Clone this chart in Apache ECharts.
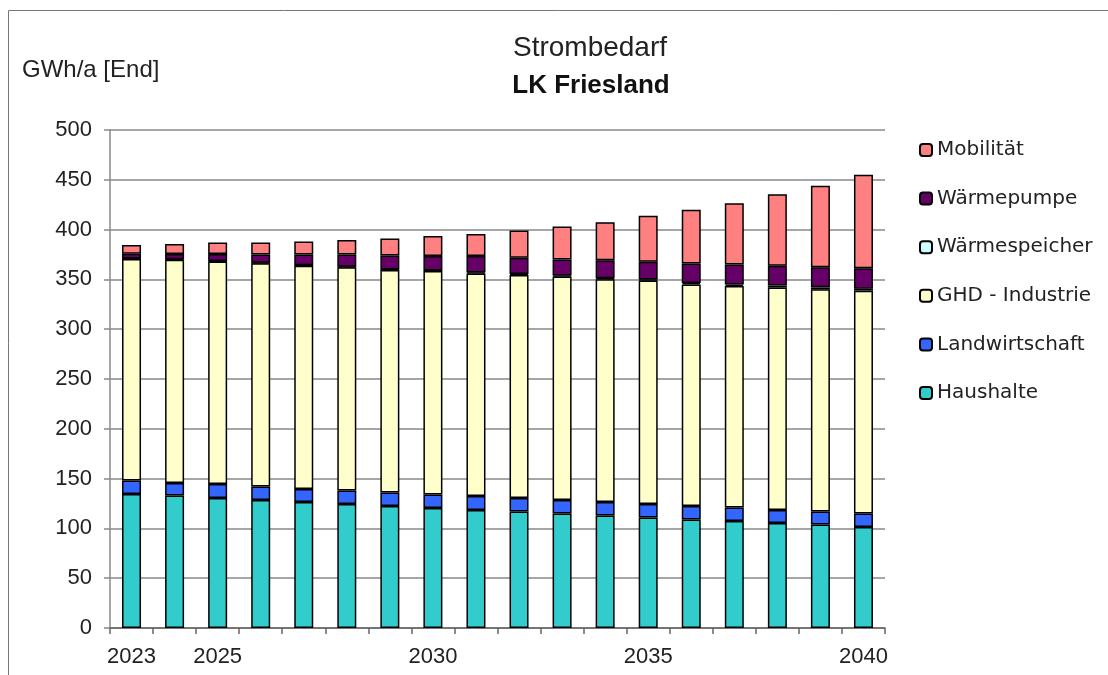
<!DOCTYPE html>
<html>
<head>
<meta charset="utf-8">
<script src="https://cdn.jsdelivr.net/npm/echarts@6/dist/echarts.min.js"></script>
<style>
html,body{margin:0;padding:0;background:#fff;}
#chart{width:1108px;height:675px;}
</style>
</head>
<body>
<div id="chart"></div>
<script>
const years = ['2023','2024','2025','2026','2027','2028','2029','2030','2031','2032','2033','2034','2035','2036','2037','2038','2039','2040'];
const shownYears = ['2023','2025','2030','2035','2040'];
const haushalte = [134.5,133,130.5,128.5,126.5,124.5,122.5,120.5,118.5,117,115,113,111,109,107.5,105.5,104,101.5];
const landwirtschaft = [13.5,12.5,14,13.5,13,13.5,13.5,13.5,14,13.5,13.5,13.5,13.5,13.5,13.5,13,13,13.5];
const ghdIndustrie = [222.5,224.3,223.5,224.3,224.2,224.3,223.5,224.4,223.5,224,224.3,223.7,224.3,222.5,222.3,223.3,223,223.7];
const waermespeicher = [0.5,0.5,0.5,0.5,0.5,0.5,0.5,0.5,1,1,1,1,1,1.5,1.5,2,2,2];
const waermepumpe = [4.7,5.2,7,8.2,10.8,12.2,14,14.5,16.5,16.3,16.2,18.1,17.8,19.5,20.1,19.9,20.3,20.6];
const mobilitaet = [8.8,10,11.5,12,13,14.6,17,20.1,22,27.2,33,38.2,46.4,54,61.6,71.8,81.7,93.7];
const yTicks = {min:0, max:500, interval:50};

const chart = echarts.init(document.getElementById('chart'), null, {renderer:'canvas'});
const border = {borderColor:'#000', borderWidth:1.5};
function s(name, data, color){
  return {name, type:'bar', stack:'total', data, barWidth:19,
    itemStyle:Object.assign({color}, border), emphasis:{disabled:true}};
}
chart.setOption({
  animation:false,
  backgroundColor:'#fff',
  graphic:[
    {type:'rect', shape:{x:8.5,y:10.5,width:1200,height:700}, style:{fill:'none', stroke:'#777', lineWidth:1}},
    {type:'text', left:22, top:58, style:{text:'GWh/a [End]', font:'24px "Liberation Sans"', fill:'#222'}},
    {type:'text', x:590, y:48, style:{text:'Strombedarf', font:'28px "Liberation Sans"', fill:'#222', align:'center', verticalAlign:'middle'}},
    {type:'text', x:591, y:86, style:{text:'LK Friesland', font:'bold 26px "Liberation Sans"', fill:'#111', align:'center', verticalAlign:'middle'}}
  ],
  legend:{
    orient:'vertical', left:914, top:135,
    itemWidth:12, itemHeight:12, itemGap:28.6,
    textStyle:{fontFamily:'DejaVu Sans', fontSize:20, color:'#222', lineHeight:20},
    data:['Mobilität','Wärmepumpe','Wärmespeicher','GHD - Industrie','Landwirtschaft','Haushalte']
  },
  grid:{left:110, right:223, top:130, bottom:47, containLabel:false},
  xAxis:{
    type:'category', data:years, boundaryGap:true,
    axisLine:{lineStyle:{color:'#666', width:1.5}},
    axisTick:{show:true, alignWithLabel:false, interval:0, length:6, inside:false, lineStyle:{color:'#666', width:1.5}},
    axisLabel:{interval:0, margin:18, fontFamily:'Liberation Sans', fontSize:22, color:'#222',
      formatter:v => shownYears.includes(v) ? v : ''}
  },
  yAxis:{
    type:'value', min:yTicks.min, max:yTicks.max, interval:yTicks.interval,
    axisLine:{show:true, lineStyle:{color:'#888', width:1.5}},
    axisTick:{show:true, length:6, lineStyle:{color:'#888', width:1.5}},
    axisLabel:{margin:18, fontFamily:'Liberation Sans', fontSize:22, color:'#222'},
    splitLine:{show:true, lineStyle:{color:'#888', width:1.5}}
  },
  series:[
    s('Haushalte', haushalte, '#33CCCC'),
    s('Landwirtschaft', landwirtschaft, '#3366FF'),
    s('GHD - Industrie', ghdIndustrie, '#FFFFCC'),
    s('Wärmespeicher', waermespeicher, '#CCFFFF'),
    s('Wärmepumpe', waermepumpe, '#660066'),
    s('Mobilität', mobilitaet, '#FF8080')
  ]
});
</script>
</body>
</html>
